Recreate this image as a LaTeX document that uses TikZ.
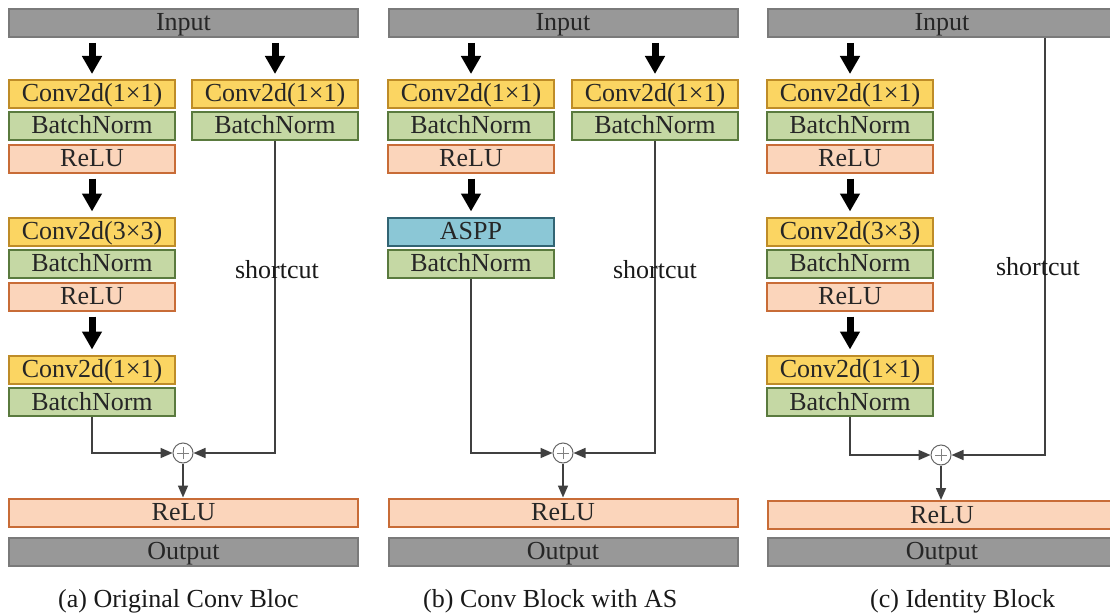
\documentclass[tikz,border=0pt]{standalone}
\usepackage{fontspec}
\setmainfont{Liberation Serif}
\usetikzlibrary{arrows.meta}

\definecolor{convfill}{RGB}{251,213,98}
\definecolor{convline}{RGB}{190,140,40}
\definecolor{bnfill}{RGB}{197,216,164}
\definecolor{bnline}{RGB}{90,122,62}
\definecolor{relufill}{RGB}{251,213,187}
\definecolor{reluline}{RGB}{200,108,55}
\definecolor{asppfill}{RGB}{139,199,214}
\definecolor{asppline}{RGB}{50,100,115}
\definecolor{iofill}{RGB}{152,152,152}
\definecolor{ioline}{RGB}{122,122,122}

\begin{document}
\begin{tikzpicture}
[x=1pt,y=-1pt,
  boxDecorate/.style={draw,line width=2pt,inner sep=0pt,minimum height=28pt,
    text height=20pt,text depth=4pt,
    text=black!85,font=\fontsize{26}{26}\selectfont},
  conv/.style={boxDecorate,minimum width=166pt,fill=convfill,draw=convline},
  bn/.style={boxDecorate,minimum width=166pt,fill=bnfill,draw=bnline},
  relu/.style={boxDecorate,minimum width=166pt,fill=relufill,draw=reluline},
  aspp/.style={boxDecorate,minimum width=166pt,fill=asppfill,draw=asppline},
  bar/.style={boxDecorate,minimum width=349pt},
  reluBar/.style={bar,fill=relufill,draw=reluline},
  ioBar/.style={bar,fill=iofill,draw=ioline},
  fatArrow/.style={-{Triangle[width=19pt,length=18pt]},line width=7pt,
    shorten <=5pt,shorten >=5pt},
  lineDecorate/.style={-{Triangle[width=10pt,length=12pt]},line width=1.6pt,draw=black!75},
  addDecorate/.style={shape=circle,draw=black!60,fill=white,line width=1pt,
    minimum size=20pt,inner sep=0pt,
    path picture={\draw[black!50,line width=0.8pt]
      ([xshift=-6pt]path picture bounding box.center) -- ([xshift=6pt]path picture bounding box.center)
      ([yshift=-6pt]path picture bounding box.center) -- ([yshift=6pt]path picture bounding box.center);}},
  textDecorate/.style={font=\fontsize{26}{26}\selectfont,text=black!90,inner sep=0pt}]
\path[use as bounding box,fill=white] (0,0) rectangle (1110,615);

%% input, last relu and output bars
\foreach \p/\x/\ry in {A/183.5/512.5, B/563/512.5, C/942/515}
{
  \node (in\p) at (\x,23) [ioBar] {Input};
  \node (relu\p) at (\x,\ry) [reluBar] {ReLU};
  \node (out\p) at (\x,551.5) [ioBar] {Output};
}

%% layer boxes
\foreach \nodename/\x/\y/\kind/\txt in {
  c1A/92/94/conv/Conv2d(1×1), b1A/92/126/bn/BatchNorm, r1A/92/158.5/relu/ReLU,
  c2A/92/231.5/conv/Conv2d(3×3), b2A/92/263.5/bn/BatchNorm, r2A/92/296.5/relu/ReLU,
  c3A/92/369.5/conv/Conv2d(1×1), b3A/92/402/bn/BatchNorm,
  c4A/275/94/conv/Conv2d(1×1), b4A/275/126/bn/BatchNorm,
  c1B/471/94/conv/Conv2d(1×1), b1B/471/126/bn/BatchNorm, r1B/471/158.5/relu/ReLU,
  aspB/471/231.5/aspp/ASPP, b2B/471/263.5/bn/BatchNorm,
  c4B/655/94/conv/Conv2d(1×1), b4B/655/126/bn/BatchNorm,
  c1C/850/94/conv/Conv2d(1×1), b1C/850/126/bn/BatchNorm, r1C/850/158.5/relu/ReLU,
  c2C/850/231.5/conv/Conv2d(3×3), b2C/850/263.5/bn/BatchNorm, r2C/850/296.5/relu/ReLU,
  c3C/850/369.5/conv/Conv2d(1×1), b3C/850/402/bn/BatchNorm}
{
  \node (\nodename) at (\x,\y) [\kind] {\txt};
}

%% adders
\node (addA) at (183,453) [addDecorate] {};
\node (addB) at (563,453) [addDecorate] {};
\node (addC) at (941,455) [addDecorate] {};
\coordinate (tapC) at (1045,0);

%% thick arrows
\foreach \p/\col in {A/c1A, A/c4A, B/c1B, B/c4B, C/c1C}
  \draw[fatArrow] (in\p.south -| \col) -- (\col);
\foreach \startnode/\endnode in {r1A/c2A, r2A/c3A, r1B/aspB, r1C/c2C, r2C/c3C}
  \draw[fatArrow] (\startnode) -- (\endnode);

%% residual paths
\foreach \startnode/\endnode in {b3A/addA, b4A/addA, b2B/addB, b4B/addB, b3C/addC}
  \draw[lineDecorate] (\startnode) |- (\endnode);
\draw[lineDecorate] (inC.south -| tapC) |- (addC);
\foreach \p in {A,B,C}
  \draw[lineDecorate] (add\p) -- (add\p |- relu\p.north);

%% labels
\node (scA) at (277,270) [textDecorate] {shortcut};
\node (scB) at (655,270) [textDecorate] {shortcut};
\node (scC) at (1038,267) [textDecorate] {shortcut};
\node (capA) at (58,607) [textDecorate,anchor=base west] {(a) Original Conv Bloc};
\node (capB) at (423,607) [textDecorate,anchor=base west] {(b) Conv Block with AS};
\node (capC) at (870,607) [textDecorate,anchor=base west] {(c) Identity Block};
\end{tikzpicture}
\end{document}
